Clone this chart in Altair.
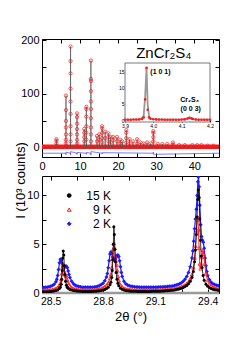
import altair as alt
import pandas as pd

FONT = "Liberation Sans"

# ---------------- top panel: full diffraction pattern ----------------
peak_x = [3.8, 6.3, 7.5, 9.2, 11.1, 11.65, 12.85, 14.45, 15.05, 15.8, 16.6, 17.45, 18.0, 18.7,
          19.7, 20.55, 21.1, 22.15, 23.0, 23.9, 25.0, 25.9, 26.7, 27.6, 28.5, 29.25, 30.4, 31.6,
          32.9, 34.4, 36.0, 37.5, 39.5, 40.8, 41.9, 43.5, 45.0]
peak_obs = [
    [16, 13, 8, 4],
    [97, 70, 50, 38, 25, 15, 8],
    [188, 161, 138, 110, 86, 63, 40, 25, 12],
    [64, 57, 45, 35, 25, 15, 8],
    [35, 28, 20, 12],
    [76, 72, 58, 40, 28, 15],
    [162, 128, 124, 105, 86, 72, 55, 38, 25, 12],
    [22, 12], [25, 15], [40, 36, 28, 18, 10], [30, 18], [27, 20, 12], [20, 10], [20, 14],
    [20, 12], [15, 8], [12], [33, 28, 18, 10], [16, 8], [12], [16, 8], [10], [8], [10], [8],
    [31, 28, 20, 12], [7], [7], [7], [10, 6], [5], [5], [5], [5], [5], [4], [4],
]
band_x = [0.0, 46.5]
band_y = [2.0, 2.0]
diff_x = [0.0, 6.28, 6.3, 6.32, 7.48, 7.5, 7.52, 9.18, 9.2, 9.22, 11.63, 11.65, 11.67,
          12.83, 12.85, 12.87, 15.78, 15.8, 15.82, 29.23, 29.25, 29.27, 46.5]
diff_y = [-10, -10, -12.5, -8, -10, -13, -7, -10, -12, -8.5, -10, -12, -8.5,
          -10, -13.5, -7, -10, -11.5, -9, -10, -8, -12, -10]

# inset
inset_x = [3.90, 3.91, 3.92, 3.93, 3.94, 3.95, 3.96, 3.966, 3.971, 3.976, 3.98, 3.985, 3.99,
           4.00, 4.01, 4.02, 4.03, 4.04, 4.05, 4.06, 4.07, 4.08, 4.09, 4.10, 4.11, 4.12,
           4.127, 4.135, 4.14, 4.15, 4.16, 4.17, 4.18, 4.19, 4.20]
inset_obs = [0.2, 0.2, 0.2, 0.25, 0.25, 0.3, 0.45, 0.9, 6.4, 16.0, 3.2, 0.9, 0.5,
             0.35, 0.3, 0.25, 0.25, 0.2, 0.2, 0.2, 0.2, 0.2, 0.2, 0.25, 0.3, 0.5,
             0.8, 0.6, 0.4, 0.25, 0.2, 0.2, 0.2, 0.2, 0.2]
inset_calc = [0.2, 0.2, 0.2, 0.25, 0.25, 0.3, 0.5, 1.5, 7.0, 16.2, 5.0, 1.2, 0.5,
              0.35, 0.3, 0.25, 0.25, 0.2, 0.2, 0.2, 0.2, 0.2, 0.2, 0.25, 0.35, 0.6,
              0.85, 0.6, 0.4, 0.25, 0.2, 0.2, 0.2, 0.2, 0.2]
inset_labels = ["(1 0 1)", "Cr\u2082S\u2083", "(0 0 3)"]
inset_label_x = [4.025, 4.128, 4.132]
inset_label_y = [14.8, 6.2, 3.6]

title_text = ["ZnCr\u2082S\u2084"]
title_x = [32.0]
title_y = [176.0]

# ---------------- bottom panel: three temperatures ----------------
k15 = [
    (28.45, .12), (28.46, .12), (28.47, .13), (28.48, .13), (28.49, .14), (28.50, .15), (28.51, .17), (28.52, .20), (28.53, .25),
    (28.54, .32), (28.55, .45), (28.555, .6), (28.56, .9), (28.563, 1.4), (28.566, 2.3), (28.569, 3.6), (28.572, 4.3), (28.575, 3.9),
    (28.578, 2.8), (28.581, 1.9), (28.585, 1.2), (28.59, .8), (28.595, .6), (28.60, .48), (28.61, .36), (28.62, .3), (28.63, .25),
    (28.64, .22), (28.65, .2), (28.66, .18), (28.67, .17), (28.68, .16), (28.69, .16), (28.70, .15), (28.71, .15), (28.72, .15),
    (28.73, .16), (28.74, .16), (28.75, .17), (28.76, .18), (28.77, .2), (28.78, .22), (28.79, .25), (28.80, .3),
    (28.81, .36), (28.82, .45), (28.83, .6), (28.84, .85), (28.845, 1.1), (28.85, 1.6), (28.853, 2.3), (28.856, 3.4), (28.859, 5.0),
    (28.862, 6.8), (28.865, 6.0), (28.868, 4.5), (28.871, 3.2), (28.875, 2.1), (28.88, 1.4), (28.885, 1.0), (28.89, .75), (28.90, .5),
    (28.91, .38), (28.92, .3), (28.93, .26), (28.94, .23), (28.95, .2), (28.96, .19), (28.97, .18), (28.98, .17), (28.99, .17),
    (29.00, .16), (29.01, .16), (29.02, .16), (29.03, .16), (29.04, .16), (29.05, .16), (29.06, .16), (29.07, .16), (29.08, .17),
    (29.09, .17), (29.10, .17), (29.11, .18), (29.12, .18), (29.13, .19), (29.14, .2), (29.15, .21), (29.16, .22), (29.17, .23),
    (29.18, .25), (29.19, .27), (29.20, .29), (29.21, .32), (29.22, .35), (29.23, .39), (29.24, .44), (29.25, .5),
    (29.26, .57), (29.27, .66), (29.28, .78), (29.29, .95), (29.30, 1.2), (29.31, 1.6), (29.318, 2.2), (29.325, 3.2), (29.33, 4.4),
    (29.335, 6.0), (29.339, 7.8), (29.343, 9.6), (29.347, 10.6), (29.351, 9.8), (29.355, 7.6), (29.359, 5.4), (29.363, 3.8),
    (29.368, 2.6), (29.374, 1.8), (29.38, 1.3), (29.39, .9), (29.40, .7), (29.41, .55), (29.42, .45), (29.43, .38), (29.44, .33),
    (29.45, .3), (29.46, .27), (29.47, .25)]
k9 = [
    (28.45, .28), (28.46, .28), (28.47, .29), (28.48, .3), (28.49, .31), (28.50, .33), (28.51, .36), (28.52, .4), (28.53, .47),
    (28.54, .58), (28.55, .8), (28.555, 1.0), (28.56, 1.4), (28.564, 2.0), (28.567, 2.6), (28.57, 3.0), (28.574, 2.8), (28.578, 2.2),
    (28.582, 1.9), (28.586, 1.85), (28.59, 1.7), (28.595, 1.35), (28.60, 1.05), (28.61, .75), (28.62, .58), (28.63, .48), (28.64, .42),
    (28.65, .38), (28.66, .35), (28.67, .33), (28.68, .32), (28.69, .31), (28.70, .3), (28.71, .3), (28.72, .3), (28.73, .31),
    (28.74, .32), (28.75, .33), (28.76, .35), (28.77, .38), (28.78, .42), (28.79, .47), (28.80, .55), (28.81, .65), (28.82, .8),
    (28.83, 1.05), (28.84, 1.5), (28.845, 1.9), (28.85, 2.6), (28.854, 3.5), (28.858, 4.5), (28.862, 5.1), (28.866, 4.6), (28.87, 3.8),
    (28.874, 3.3), (28.878, 2.9), (28.882, 2.3), (28.886, 1.7), (28.89, 1.3), (28.90, .85), (28.91, .62), (28.92, .5), (28.93, .43),
    (28.94, .39), (28.95, .36), (28.96, .34), (28.97, .33), (28.98, .32), (28.99, .31), (29.00, .3), (29.01, .3), (29.02, .3), (29.03, .3),
    (29.04, .3), (29.05, .3), (29.06, .3), (29.07, .3), (29.08, .3), (29.09, .3), (29.10, .31), (29.11, .31), (29.12, .32), (29.13, .32),
    (29.14, .33), (29.15, .34), (29.16, .35), (29.17, .36), (29.18, .38), (29.19, .4), (29.20, .42), (29.21, .45), (29.22, .49),
    (29.23, .53), (29.24, .58), (29.25, .64), (29.26, .72), (29.27, .82), (29.28, .96), (29.29, 1.15), (29.30, 1.45), (29.31, 1.9),
    (29.318, 2.6), (29.325, 3.6), (29.33, 4.8), (29.335, 6.3), (29.339, 7.5), (29.343, 7.8), (29.347, 6.5), (29.351, 4.6), (29.355, 3.0),
    (29.359, 2.5), (29.363, 2.8), (29.368, 3.7), (29.373, 4.4), (29.378, 4.0), (29.383, 3.0), (29.39, 2.0), (29.40, 1.3), (29.41, .95),
    (29.42, .75), (29.43, .62), (29.44, .54), (29.45, .48), (29.46, .44), (29.47, .41)]
k2 = [
    (28.45, .55), (28.46, .56), (28.47, .58), (28.48, .6), (28.49, .63), (28.50, .68), (28.51, .76), (28.52, .9), (28.53, 1.15),
    (28.535, 1.4), (28.54, 1.8), (28.545, 2.4), (28.55, 3.1), (28.555, 3.45), (28.56, 3.35), (28.565, 3.0), (28.57, 2.7), (28.575, 2.6),
    (28.58, 2.65), (28.585, 2.75), (28.59, 2.75), (28.595, 2.6), (28.60, 2.25), (28.605, 1.9), (28.61, 1.6), (28.62, 1.2), (28.63, .95),
    (28.64, .8), (28.65, .72), (28.66, .67), (28.67, .63), (28.68, .6), (28.69, .59), (28.70, .58), (28.71, .58), (28.72, .58),
    (28.73, .59), (28.74, .6), (28.75, .62), (28.76, .65), (28.77, .7), (28.78, .77), (28.79, .87), (28.80, 1.0), (28.81, 1.25),
    (28.82, 1.65), (28.825, 2.0), (28.83, 2.6), (28.835, 3.3), (28.84, 4.0), (28.845, 4.2), (28.85, 4.05), (28.855, 3.7), (28.86, 3.4),
    (28.865, 3.35), (28.87, 3.45), (28.875, 3.65), (28.88, 3.85), (28.885, 3.9), (28.89, 3.75), (28.895, 3.3), (28.90, 2.7),
    (28.905, 2.1), (28.91, 1.7), (28.92, 1.2), (28.93, .95), (28.94, .82), (28.95, .74), (28.96, .69), (28.97, .66), (28.98, .63),
    (28.99, .62), (29.00, .61), (29.01, .6), (29.02, .6), (29.03, .6), (29.04, .6), (29.05, .6), (29.06, .6), (29.07, .6), (29.08, .6),
    (29.09, .6), (29.10, .6), (29.11, .6), (29.12, .61), (29.13, .61), (29.14, .62), (29.15, .63), (29.16, .64), (29.17, .66),
    (29.18, .68), (29.19, .7), (29.20, .73), (29.21, .77), (29.22, .82), (29.23, .88), (29.24, .96), (29.25, 1.06), (29.26, 1.2),
    (29.27, 1.4), (29.28, 1.7), (29.29, 2.1), (29.30, 2.7), (29.31, 3.6), (29.315, 4.3), (29.32, 5.3), (29.325, 6.6), (29.33, 7.6),
    (29.335, 8.6), (29.34, 10.0), (29.344, 11.4), (29.347, 11.9), (29.351, 10.9), (29.355, 9.0), (29.36, 7.0), (29.365, 5.8),
    (29.37, 5.4), (29.375, 5.2), (29.38, 4.6), (29.385, 3.6), (29.39, 2.8), (29.395, 2.2), (29.40, 1.8), (29.41, 1.35), (29.42, 1.1),
    (29.43, .95), (29.44, .86), (29.45, .8), (29.46, .76), (29.47, .73)]
legend_labels = ["15 K", "9 K", "2 K"]
legend_y = [10.0, 8.55, 7.1]
legend_sym_x = 28.606
legend_txt_x = 28.846

# ---------------- helpers ----------------
W, H1, H2 = 177, 118, 117


def S(domain, rng=None):
    kw = dict(domain=domain, nice=False, zero=False)
    if rng is not None:
        kw["range"] = rng
    return alt.Scale(**kw)


def ax(orient, values, labels=True, expr=None, offset=-4, size=4, **kw):
    d = dict(orient=orient, values=values, offset=offset, tickSize=size, domain=False, grid=False,
             labels=labels, labelOverlap=False, labelFlush=False, tickColor="black", tickWidth=1,
             labelColor="black", labelFont=FONT, labelFontSize=11, labelPadding=2)
    if expr:
        d["labelExpr"] = expr
    d.update(kw)
    return alt.Axis(**d)


# ---------------- top panel ----------------
XD1, YD1 = [0, 46.5], [-17, 202]
tx_vals = list(range(0, 50, 5))
ty_vals = [0, 50, 100, 150, 200]
tx_expr = "datum.value % 10 == 0 ? format(datum.value, 'd') : ''"
ty_expr = "datum.value % 100 == 0 ? format(datum.value, 'd') : ''"

obs_rows = [{"x": x, "y": y} for x, ys in zip(peak_x, peak_obs) for y in ys]
calc_rows = [{"x": XD1[0], "y": 1.0}]
for x, ys in zip(peak_x, peak_obs):
    calc_rows += [{"x": x - 0.04, "y": 1.0}, {"x": x, "y": max(ys)}, {"x": x + 0.04, "y": 1.0}]
calc_rows.append({"x": XD1[1], "y": 1.0})

band = alt.Chart(pd.DataFrame({"x": band_x, "y": band_y})).mark_line(
    color="#ff1a1a", strokeWidth=4.5).encode(
    x=alt.X("x:Q", scale=S(XD1), title=None, axis=ax("bottom", tx_vals, expr=tx_expr, labelPadding=3)),
    y=alt.Y("y:Q", scale=S(YD1), title=None, axis=ax("left", ty_vals, expr=ty_expr, labelPadding=3)),
)
calc = alt.Chart(pd.DataFrame(calc_rows)).mark_line(color="#555555", strokeWidth=0.7).encode(
    x=alt.X("x:Q", scale=S(XD1), title=None, axis=ax("top", tx_vals, labels=False)),
    y=alt.Y("y:Q", scale=S(YD1), title=None, axis=ax("right", ty_vals, labels=False)),
)
obs = alt.Chart(pd.DataFrame(obs_rows)).mark_point(
    shape="circle", filled=False, color="#ff1a1a", size=11, strokeWidth=0.7, opacity=1).encode(
    x=alt.X("x:Q", scale=S(XD1), axis=None),
    y=alt.Y("y:Q", scale=S(YD1), axis=None),
)
diff = alt.Chart(pd.DataFrame({"x": diff_x, "y": diff_y})).mark_line(
    color="#4444ff", strokeWidth=0.7).encode(
    x=alt.X("x:Q", scale=S(XD1), axis=None),
    y=alt.Y("y:Q", scale=S(YD1), axis=None),
)
title = alt.Chart(pd.DataFrame({"x": title_x, "y": title_y, "t": title_text})).mark_text(
    font=FONT, fontSize=15, color="black").encode(
    x=alt.X("x:Q", scale=S(XD1), axis=None),
    y=alt.Y("y:Q", scale=S(YD1), axis=None),
    text="t:N",
)

IXD, IYD = [3.9, 4.2], [-0.5, 17.5]
IXR, IYR = [83, 168], [83, 24]
inset_frame = alt.Chart(pd.DataFrame({"x0": [IXD[0]], "x1": [IXD[1]], "y0": [IYD[0]], "y1": [IYD[1]]})).mark_rect(
    fill="white", stroke="#555555", strokeWidth=0.8).encode(
    x=alt.X("x0:Q", scale=S(IXD, IXR), title=None,
            axis=ax("bottom", [3.9, 4.0, 4.1, 4.2], offset=-38, size=3, format=".1f",
                    labelFontSize=5, labelPadding=1)),
    x2="x1:Q",
    y=alt.Y("y0:Q", scale=S(IYD, IYR), title=None,
            axis=ax("left", [0, 5, 10, 15], offset=-86, size=3, format="d",
                    labelFontSize=5, labelPadding=1)),
    y2="y1:Q",
)
inset_df = pd.DataFrame({"x": inset_x, "obs": inset_obs, "calc": inset_calc})
inset_calc_line = alt.Chart(inset_df).mark_line(color="#999999", strokeWidth=1.8).encode(
    x=alt.X("x:Q", scale=S(IXD, IXR), axis=None),
    y=alt.Y("calc:Q", scale=S(IYD, IYR), axis=None),
)
inset_obs_pts = alt.Chart(inset_df).mark_point(
    shape="circle", filled=True, color="#ff1a1a", size=7, opacity=1).encode(
    x=alt.X("x:Q", scale=S(IXD, IXR), axis=None),
    y=alt.Y("obs:Q", scale=S(IYD, IYR), axis=None),
)
inset_text = alt.Chart(pd.DataFrame({"x": inset_label_x, "y": inset_label_y, "t": inset_labels})).mark_text(
    font=FONT, fontSize=7, fontWeight="bold", color="black").encode(
    x=alt.X("x:Q", scale=S(IXD, IXR), axis=None),
    y=alt.Y("y:Q", scale=S(IYD, IYR), axis=None),
    text="t:N",
)

top = alt.layer(band, calc, obs, diff, title, inset_frame, inset_calc_line,
                inset_obs_pts, inset_text).resolve_scale(x="independent", y="independent").properties(
    width=W, height=H1)

# ---------------- bottom panel ----------------
XD2, YD2 = [28.45, 29.465], [0, 12]
bx_vals = [28.5, 28.65, 28.8, 28.95, 29.1, 29.25, 29.4]
by_vals = [0, 2.5, 5, 7.5, 10]
bx_expr = "abs((datum.value - 28.5) / 0.3 - round((datum.value - 28.5) / 0.3)) < 0.01 ? format(datum.value, '.1f') : ''"
by_expr = "datum.value % 5 == 0 ? format(datum.value, 'd') : ''"

zero = alt.Chart(pd.DataFrame({"x": XD2, "y": [0, 0]})).mark_line(color="#999999", strokeWidth=2.5).encode(
    x=alt.X("x:Q", scale=S(XD2),
            axis=ax("bottom", bx_vals, expr=bx_expr, labelFontSize=10.5, labelPadding=3,
                    title="2\u03b8 (\u00b0)", titleFont=FONT, titleFontSize=13,
                    titleFontWeight="normal", titleColor="black", titlePadding=4)),
    y=alt.Y("y:Q", scale=S(YD2),
            axis=ax("left", by_vals, expr=by_expr, labelPadding=3,
                    title="I (10\u00b3 counts)", titleFont=FONT, titleFontSize=13,
                    titleFontWeight="normal", titleColor="black", titleX=-26, titleY=4,
                    titleAngle=270, titleAlign="center", titleBaseline="middle")),
)


def series(data, color, shape, filled, size, width, with_axes=False):
    df = pd.DataFrame(data, columns=["x", "y"])
    if with_axes:
        xa = ax("top", bx_vals, labels=False)
        ya = ax("right", by_vals, labels=False)
    else:
        xa = None
        ya = None
    line = alt.Chart(df).mark_line(color=color, strokeWidth=width, clip=True).encode(
        x=alt.X("x:Q", scale=S(XD2), title=None, axis=xa),
        y=alt.Y("y:Q", scale=S(YD2), title=None, axis=ya),
    )
    pts = alt.Chart(df).mark_point(shape=shape, filled=filled, color=color, size=size,
                                   strokeWidth=0.8, opacity=1, clip=True).encode(
        x=alt.X("x:Q", scale=S(XD2), axis=None),
        y=alt.Y("y:Q", scale=S(YD2), axis=None),
    )
    return [line, pts]


blue_l = series(k2, "#1a1aff", "diamond", True, 16, 1.2, with_axes=True)
red_l = series(k9, "#ff1a1a", "triangle-up", False, 12, 1.0)
black_l = series(k15, "#000000", "circle", True, 9, 0.8)

leg_df = pd.DataFrame({"sx": [legend_sym_x] * 3, "tx": [legend_txt_x] * 3, "y": legend_y,
                       "t": legend_labels, "k": legend_labels})
leg_pts = alt.Chart(leg_df).mark_point(opacity=1, size=14, strokeWidth=1).encode(
    x=alt.X("sx:Q", scale=S(XD2), axis=None),
    y=alt.Y("y:Q", scale=S(YD2), axis=None),
    color=alt.Color("k:N", scale=alt.Scale(domain=legend_labels, range=["#000000", "#ff1a1a", "#1a1aff"]), legend=None),
    shape=alt.Shape("k:N", scale=alt.Scale(domain=legend_labels, range=["circle", "triangle-up", "diamond"]), legend=None),
    fill=alt.Fill("k:N", scale=alt.Scale(domain=legend_labels, range=["#000000", "#ffffff", "#1a1aff"]), legend=None),
)
leg_txt = alt.Chart(leg_df).mark_text(font=FONT, fontSize=12, align="right", color="black").encode(
    x=alt.X("tx:Q", scale=S(XD2), axis=None),
    y=alt.Y("y:Q", scale=S(YD2), axis=None),
    text="t:N",
)

bottom = alt.layer(zero, *blue_l, *red_l, *black_l, leg_pts, leg_txt).resolve_scale(
    x="independent", y="independent", color="independent", shape="independent", fill="independent").properties(
    width=W, height=H2)

chart = alt.vconcat(top, bottom, spacing=19, bounds="flush").properties(
    padding={"left": 5, "top": 25, "right": 4, "bottom": 4}, background="white"
).configure_view(stroke="black", strokeWidth=1)

chart.save("out.html", embed_options={"renderer": "svg", "actions": False})
